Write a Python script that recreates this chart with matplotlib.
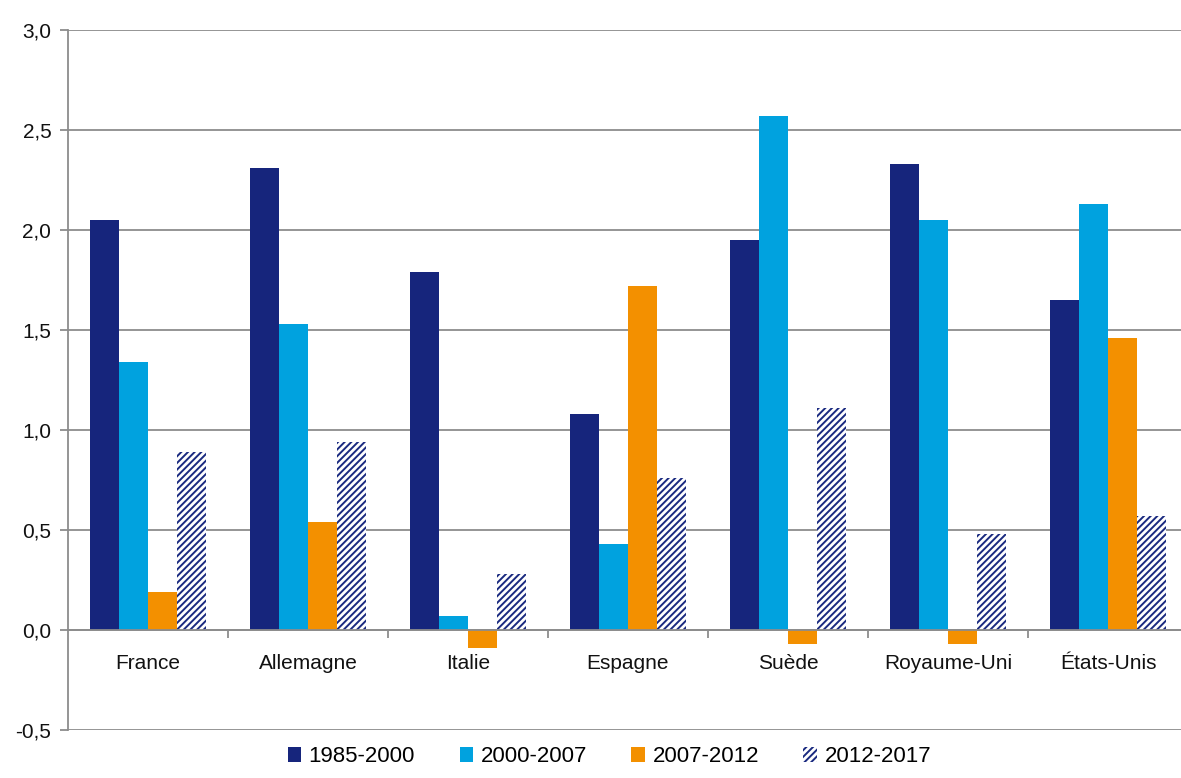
import numpy as np
import matplotlib
matplotlib.use("Agg")
import matplotlib.pyplot as plt
from matplotlib.ticker import FixedLocator

plt.rcParams['font.family'] = ['Liberation Sans', 'DejaVu Sans']
plt.rcParams['hatch.linewidth'] = 1.4

countries = ['France', 'Allemagne', 'Italie', 'Espagne', 'Suède', 'Royaume-Uni', 'États-Unis']
periods = ['1985-2000', '2000-2007', '2007-2012', '2012-2017']

p1985_2000 = [2.05, 2.31, 1.79, 1.08, 1.95, 2.33, 1.65]
p2000_2007 = [1.34, 1.53, 0.07, 0.43, 2.57, 2.05, 2.13]
p2007_2012 = [0.19, 0.54, -0.09, 1.72, -0.07, -0.07, 1.46]
p2012_2017 = [0.89, 0.94, 0.28, 0.76, 1.11, 0.48, 0.57]

series = [p1985_2000, p2000_2007, p2007_2012, p2012_2017]
colors = ['#16257c', '#00a2df', '#f39000', 'white']
edges = ['#16257c', '#00a2df', '#f39000', '#1a2a80']
hatches = [None, None, None, '/////']

fig = plt.figure(figsize=(11.81, 7.78), dpi=100)
ax = fig.add_axes([68 / 1181, 1 - 730 / 778, 1120 / 1181, 700 / 778])

x = np.arange(len(countries))
w = 0.18
for i, (vals, c, h) in enumerate(zip(series, colors, hatches)):
    ax.bar(x + (i - 1.5) * w, vals, width=w, color=c, hatch=h,
           edgecolor=edges[i], linewidth=0, label=periods[i], zorder=3)

ax.set_xlim(-0.5, len(countries) - 0.5)
ax.set_ylim(-0.5, 3.0)
ax.set_yticks(np.arange(-0.5, 3.01, 0.5))
ax.set_yticklabels([f"{v:.1f}".replace('.', ',') for v in np.arange(-0.5, 3.01, 0.5)])
ax.yaxis.grid(True, color='#8c8c8c', linewidth=1.3, zorder=0)

for s in ['top', 'right']:
    ax.spines[s].set_visible(False)
ax.spines['left'].set_color('#8c8c8c')
ax.spines['left'].set_linewidth(1.3)
ax.spines['bottom'].set_position(('data', 0))
ax.spines['bottom'].set_color('#8c8c8c')
ax.spines['bottom'].set_linewidth(1.3)
ax.spines['bottom'].set_zorder(4)

ax.set_xticks(x)
ax.set_xticklabels(countries)
ax.xaxis.set_minor_locator(FixedLocator(np.arange(0.5, len(countries) - 0.5, 1)))
ax.tick_params(axis='x', which='major', length=0, pad=17, labelsize=15, colors='#111111')
ax.tick_params(axis='x', which='minor', length=6, width=1.3, color='#8c8c8c', direction='out')
ax.tick_params(axis='y', length=6, width=1.3, color='#8c8c8c', labelsize=15, pad=6,
               labelcolor='#111111')

leg = fig.legend(loc='lower center', bbox_to_anchor=(0.516, -0.012), ncol=4, frameon=False,
                 fontsize=16, handlelength=0.6, handleheight=0.6, handletextpad=0.35,
                 columnspacing=2.0)

fig.savefig('out.png', dpi=100)
